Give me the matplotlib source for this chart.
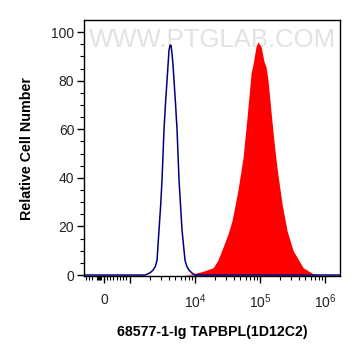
import numpy as np
import matplotlib
matplotlib.use("Agg")
import matplotlib.pyplot as plt

# ---- data ----
blue_x = [-770, 1000, 1700, 1829, 2050, 2259, 2450, 2601, 2792, 2950, 3105, 3334,
          3520, 3707, 3981, 4130, 4275, 4430, 4600, 4755, 5000, 5287, 5675, 6310,
          7017, 7500, 8091, 9000, 10000, 1.7e6]
blue_y = [0, 0, 0, 0.3, 1, 2, 3.5, 6, 18.5, 28, 39, 60,
          71, 80, 92.6, 94.6, 94.6, 91, 86, 80, 71, 60, 39, 18.5,
          6, 3.5, 2, 0.8, 0, 0]

red_x = [6760, 9330, 13200, 19000, 22400, 27000, 32300, 37300, 45800, 55000,
         63200, 72800, 78300, 86700, 93000, 104000, 115000, 124000, 133000,
         148000, 164000, 183000, 219000, 262000, 324000, 461000, 655000, 780000]
red_y = [0, 0.5, 1.5, 3, 6, 11.5, 17, 22.6, 35, 48.6,
         65, 83, 87, 94, 96, 94, 88, 85.6, 80,
         67, 55, 44, 29, 18, 10, 3, 0.5, 0]

x_major = [0, 1e3, 1e4, 1e5, 1e6]
x_major_labels = ["0", "", "$10^4$", "$10^5$", "$10^6$"]
y_major = [0, 20, 40, 60, 80, 100]

xlabel = "68577-1-Ig TAPBPL(1D12C2)"
ylabel = "Relative Cell Number"
watermark = "WWW.PTGLAB.COM"

# ---- biexponential-like scale ----
LIN = 0.4  # decades spanned by 0..1000


def fwd(x):
    x = np.asarray(x, dtype=float)
    lg = np.log10(np.maximum(x, 1e3))
    lin = 3 - LIN + LIN * x / 1e3
    return np.where(x >= 1e3, lg, lin)


def inv(p):
    p = np.asarray(p, dtype=float)
    ex = np.power(10.0, np.minimum(np.maximum(p, 3), 12))
    lin = (p - (3 - LIN)) / LIN * 1e3
    return np.where(p >= 3, ex, lin)


plt.rcParams['font.family'] = ['Liberation Sans', 'DejaVu Sans']
plt.rcParams['mathtext.fontset'] = 'custom'
plt.rcParams['mathtext.rm'] = 'Liberation Sans'
plt.rcParams['mathtext.it'] = 'Liberation Sans'

fig = plt.figure(figsize=(3.61, 3.56), dpi=100)
ax = fig.add_axes([84 / 361, 1 - 276 / 356, 256 / 361, 256 / 356])
ax.set_xscale('function', functions=(fwd, inv))
ax.set_xlim(-770, 1.7e6)
ax.set_ylim(-0.4, 105)

ax.fill_between(red_x, red_y, 0, color='#ff0000', linewidth=0, zorder=2)
ax.plot(blue_x, blue_y, color='#000080', linewidth=1.1, zorder=2.2)

ax.text(0.5, 0.92, watermark, transform=ax.transAxes, ha='center', va='center',
        fontsize=18.5, color='#e2e2e2', zorder=1)

minors = [-700, -580, -460, -270, -230, -190, -150, -120, 120, 230, 350, 500,
          620, 730, 850]
for dec in (1e3, 1e4, 1e5):
    minors += [k * dec for k in range(2, 10)]
ax.set_xticks(x_major)
ax.set_xticklabels(x_major_labels)
ax.set_xticks(minors, minor=True)
ax.set_yticks(y_major)
ax.set_yticks(np.arange(0, 105, 5), minor=True)

ax.tick_params(axis='both', which='major', length=5, width=1, direction='out',
               labelsize=10, colors='black', labelcolor='#222222')
ax.tick_params(axis='both', which='minor', length=3, width=0.8, direction='out')
ax.tick_params(axis='x', which='major', pad=7)
ax.tick_params(axis='y', which='major', pad=2)
for s in ax.spines.values():
    s.set_linewidth(1)

ax.set_xlabel(xlabel, fontsize=10.2, fontweight='bold', labelpad=10)
ax.set_ylabel(ylabel, fontsize=10.3, fontweight='bold', labelpad=12)

fig.savefig('out.png', dpi=100)
